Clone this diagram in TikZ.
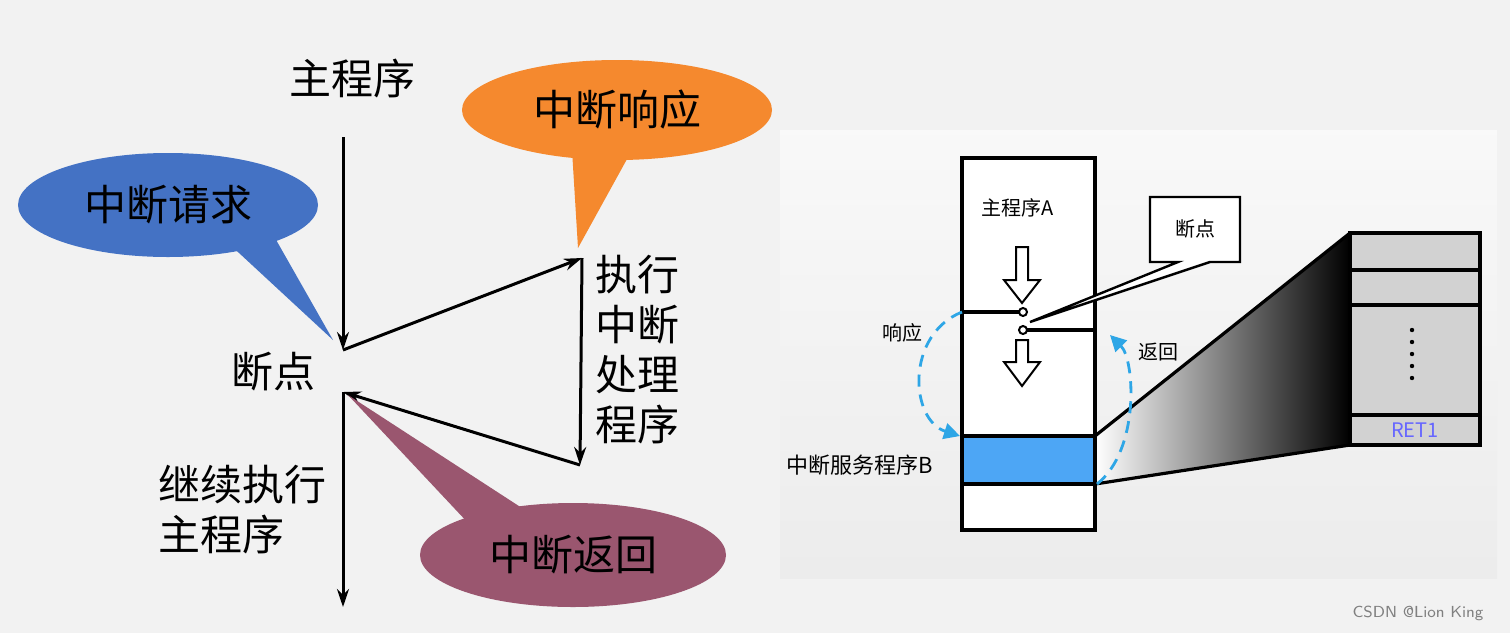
\documentclass[tikz,border=0pt]{standalone}
\usepackage{fontspec}
\setmainfont{Noto Sans CJK SC}
\usetikzlibrary{arrows.meta,shapes.geometric}
\definecolor{bg}{HTML}{F2F2F2}
\definecolor{bblue}{HTML}{4472C4}
\definecolor{borange}{HTML}{F5892E}
\definecolor{bpurple}{HTML}{9A566F}
\definecolor{lblue}{HTML}{2EA6E6}
\definecolor{band}{HTML}{4DA6F5}
\tikzset{
  flow/.style={line width=1.5pt,-{Stealth[length=9pt,width=6pt]}},
  big/.style={font=\fontsize{21}{25}\selectfont},
  bub/.style={font=\fontsize{21}{25}\selectfont},
  sm/.style={font=\fontsize{10}{12}\selectfont},
  thk/.style={line width=1.6pt},
  dsh/.style={lblue,line width=1.4pt,dash pattern=on 6pt off 4pt,-{Triangle[length=8pt,width=8pt]}}
}
\begin{document}
\begin{tikzpicture}[x=0.5pt,y=-0.5pt]
\fill[bg] (0,0) rectangle (1510,633);
\useasboundingbox (0,0) rectangle (1510,633);
% left panel
\node[big] (main) at (352,78) {主程序};
\coordinate (top) at (343,137);
\coordinate (bp1) at (343,350);
\coordinate (bp2) at (343,392);
\coordinate (bot) at (343,607);
\coordinate (rt) at (582,258);
\coordinate (rb) at (580,465);
\draw[flow] (top) -- (bp1);
\draw[flow] (bp2) -- (bot);
\draw[flow] (bp1) -- (rt);
\draw[flow] (rt) -- (rb);
\draw[flow] (rb) -- (bp2);
\node[big] (bp) at (273,372) {断点};
\node[big,align=left,anchor=north west,inner sep=0pt] (cont) at (158,465) {继续执行\\主程序};
\node[big,align=center,anchor=north,inner sep=0pt] (exec) at (637,255) {执行\\中断\\处理\\程序};
% bubbles
\fill[bblue] (225,240) -- (333,340) -- (275,238) -- cycle;
\node[ellipse,fill=bblue,minimum width=150pt,minimum height=52pt,inner sep=0pt,bub] (req) at (168,205) {中断请求};
\fill[borange] (572,150) -- (578,248) -- (632,150) -- cycle;
\node[ellipse,fill=borange,minimum width=155pt,minimum height=50pt,inner sep=0pt,bub] (resp) at (617,110) {中断响应};
\fill[bpurple] (470,525) -- (348,395) -- (525,510) -- cycle;
\node[ellipse,fill=bpurple,minimum width=153pt,minimum height=52pt,inner sep=0pt,bub] (ret) at (573,555) {中断返回};
% right panel
\shade[top color=white!95!gray,bottom color=white!85!gray] (780,130) rectangle (1497,578);
\shade[left color=white,right color=black] (1095,436) -- (1350,233) -- (1350,445) -- (1095,484) -- cycle;
\draw[thk] (1095,436) -- (1350,233);
\draw[thk] (1095,484) -- (1350,445);
\fill[white] (962,158) rectangle (1095,530);
\fill[band] (962,436) rectangle (1095,484);
\draw[thk] (962,158) rectangle (1095,530);
\draw[thk] (962,436) -- (1095,436);
\draw[thk] (962,484) -- (1095,484);
% stack
\fill[gray!35] (1350,233) rectangle (1480,445);
\draw[thk] (1350,233) rectangle (1480,445);
\foreach \yy in {270,305,415} \draw[thk] (1350,\yy) -- (1480,\yy);
\foreach \yy in {330,342,354,366,378} \fill (1412,\yy) circle (2.2);
\node[sm,text=blue!60] (ret1) at (1415,430) {RET1};
% hollow arrows
\draw[line width=1pt,fill=white] (1016,247) -- (1028,247) -- (1028,280) -- (1040,280) -- (1022,303) -- (1004,280) -- (1016,280) -- cycle;
\draw[line width=1pt,fill=white] (1016,340) -- (1028,340) -- (1028,362) -- (1040,362) -- (1022,386) -- (1004,362) -- (1016,362) -- cycle;
% stubs and breakpoint
\draw[thk] (962,312) -- (1019,312);
\draw[thk] (1027,330) -- (1095,330);
\draw[line width=1pt,fill=white] (1023,312) circle (4);
\draw[line width=1pt,fill=white] (1023,330) circle (4);
\fill[white] (1150,197) -- (1240,197) -- (1240,262) -- (1210,262) -- (1030,322) -- (1178,262) -- (1150,262) -- cycle;
\draw[line width=1.2pt] (1150,197) -- (1240,197) -- (1240,262) -- (1210,262) -- (1030,322) -- (1178,262) -- (1150,262) -- cycle;
\node[sm] (bpr) at (1195,229) {断点};
\node[sm] (ma) at (1018,208) {主程序A};
\node[sm] (xy) at (902,333) {响应};
\node[sm] (fh) at (1158,352) {返回};
\node[font=\fontsize{11}{13}\selectfont] (isr) at (860,465) {中断服务程序B};
% dashed arcs
\draw[dsh] (962,312) .. controls (905,335) and (910,420) .. (960,436);
\draw[dsh] (1097,484) .. controls (1140,450) and (1135,360) .. (1110,335);
\node[font=\fontsize{8}{10}\selectfont\sffamily,text=gray] (csdn) at (1418,613) {CSDN @Lion King};
\end{tikzpicture}
\end{document}
